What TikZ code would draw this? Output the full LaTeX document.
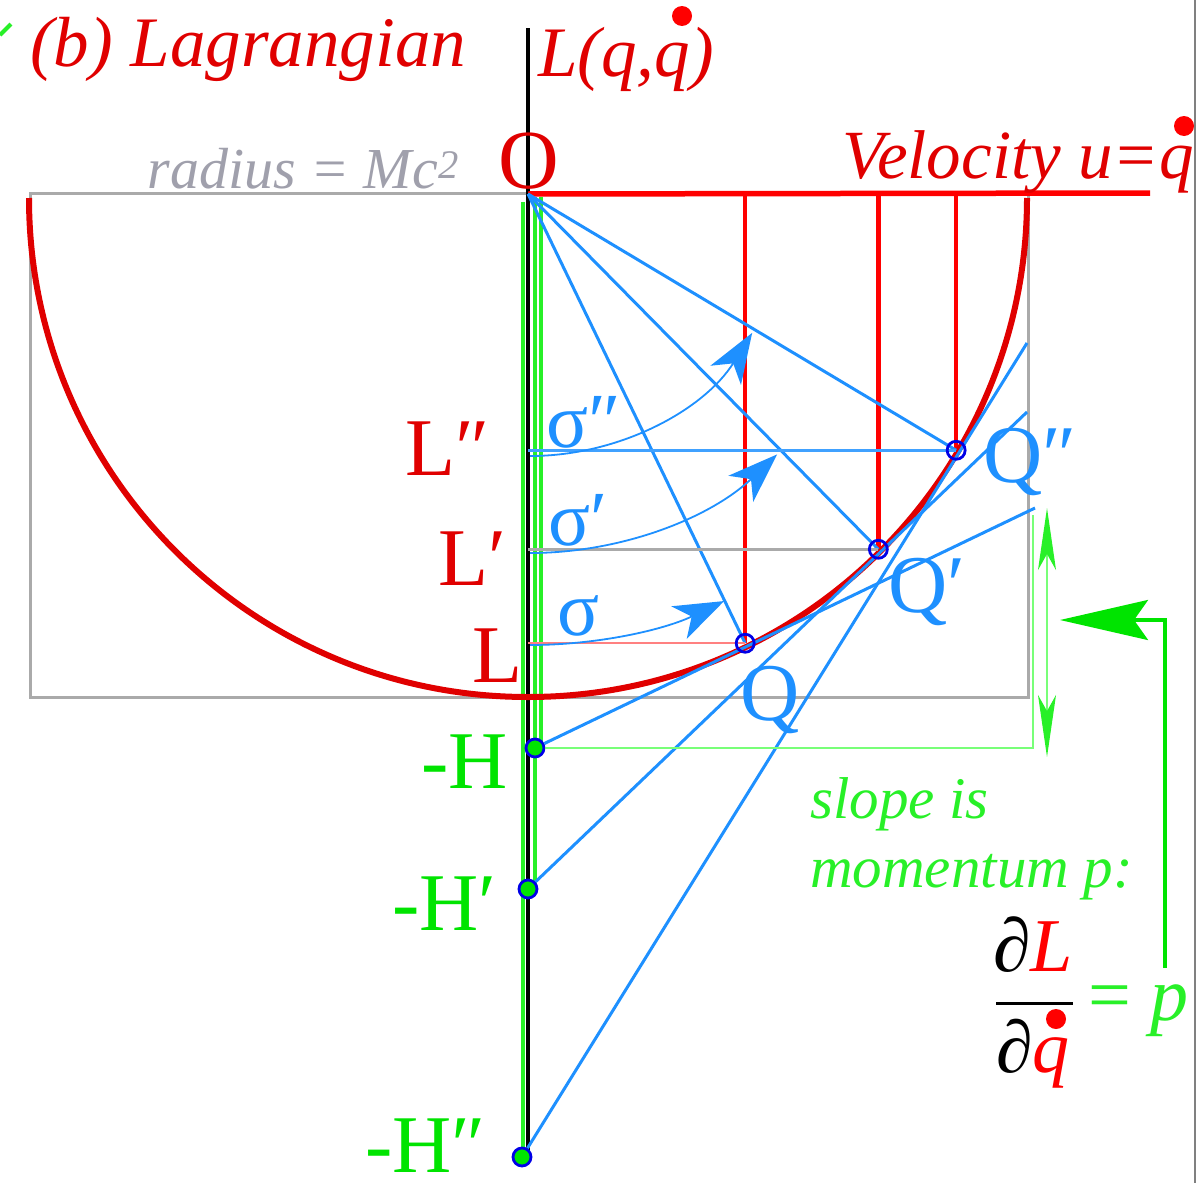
\documentclass[tikz,border=0pt]{standalone}
\usepackage{fontspec}
\setmainfont{Liberation Serif}
\usepackage{xcolor}
\usetikzlibrary{arrows.meta, calc}
\definecolor{lred}{RGB}{224,0,0}
\definecolor{vred}{RGB}{255,0,0}
\definecolor{lblue}{RGB}{30,144,255}
\definecolor{dblue}{RGB}{0,0,230}
\definecolor{lgreen}{RGB}{0,228,0}
\definecolor{bgreen}{RGB}{40,240,40}
\definecolor{pgreen}{RGB}{120,255,120}
\definecolor{lgray}{RGB}{170,170,170}
\definecolor{tgray}{RGB}{160,160,172}
\newcommand{\fsz}[1]{\fontsize{#1}{#1}\selectfont}

\begin{document}
\begin{tikzpicture}[x=1pt, y=-1pt,
    lbl/.style={inner sep=0pt, anchor=base west},
    lble/.style={inner sep=0pt, anchor=base east},
    frame/.style={draw=lgray, line width=3pt},
    gbar/.style={bgreen, line width=3.5pt},
    redline/.style={vred, line width=4.5pt},
    semi/.style={lred, line width=6pt},
    bl/.style={lblue, line width=3pt},
    sig/.style={lblue, line width=1.8pt,
                -{Stealth[length=50pt, width=36pt, inset=14pt]}},
    qdot/.style={circle, draw=dblue, line width=2.8pt, minimum size=18pt, inner sep=0pt},
    hdot/.style={qdot, fill=lgreen},
    dotq/.style={circle, fill=vred, minimum size=20pt, inner sep=0pt}]

    \useasboundingbox (0,0) rectangle (1197,1183);

    % --- Points ---
    \coordinate (O)  at (528,194);
    \coordinate (Qa) at ($(O)+(-64.2:499pt)$);
    \coordinate (Qb) at ($(O)+(-45.4:499pt)$);
    \coordinate (Qc) at ($(O)+(-30.9:499pt)$);
    \coordinate (Ta) at (1035,508);
    \coordinate (Tb) at (1027,412);
    \coordinate (Tc) at (1027,343);
    \coordinate (Tg) at (1033,515);

    % --- Frame, green bars and axes ---
    \draw[frame] (30,193) rectangle (1028,697);
    \draw[gbar] (523,202) -- (523,1150);
    \draw[gbar] (535,197) -- (535,889);
    \draw[gbar] (541,197) -- (541,748);
    \draw[black, line width=4.5pt] (528,28) -- (528,1150);
    \draw[redline, line width=5.5pt] (O) -- (1150,193);
    \draw[redline] (Qa |- O) -- (Qa);
    \draw[redline] (Qb |- O) -- (Qb);
    \draw[redline] (Qc |- O) -- (Qc);
    \draw[semi] (29,198) arc[start angle=180, end angle=360, radius=499pt];

    % --- H points ---
    \node[hdot] (Ha) at (535,748) {};
    \node[hdot] (Hb) at (528,889) {};
    \node[hdot] (Hc) at (522,1157) {};

    % --- Rays and levels ---
    \draw[bl] (O) -- (Qa);
    \draw[bl] (O) -- (Qb);
    \draw[bl] (O) -- (Qc);
    \draw[bl, lblue!85] (O |- Qc) -- (Qc);
    \draw[frame, line width=2.5pt] (O |- Qb) -- (Qb);
    \draw[vred!50, line width=2.5pt] (O |- Qa) -- (Qa);

    % --- Tangents ---
    \draw[bl] (Ha) -- (Ta);
    \draw[bl] (Hb) -- (Tb);
    \draw[bl] (Hc) -- (Tc);

    % --- Angles ---
    \draw[sig] ($(O)+(2,262)$) arc[start angle=-90, end angle=-32, radius=262pt];
    \draw[sig] ($(O)+(2,359)$) arc[start angle=-90, end angle=-46.5, radius=359pt];
    \draw[sig] ($(O)+(2,451)$) arc[start angle=-90, end angle=-64.5, radius=451pt];

    \node[qdot] (qa) at (Qa) {};
    \node[qdot] (qb) at (Qb) {};
    \node[qdot] (qc) at (Qc) {};

    % --- Momentum markers ---
    \draw[pgreen, line width=2.8pt] (Ha) -| (Tg);
    \coordinate (Dt) at (1047,508);
    \coordinate (Db) at (1047,757);
    \draw[pgreen, line width=2.2pt,
          {Stealth[length=62pt, width=18pt, inset=16pt, color=bgreen]}-{Stealth[length=62pt, width=18pt, inset=16pt, color=bgreen]}]
          (Dt) -- (Db);
    \coordinate (pfoot) at (1165,968);
    \coordinate (ptip)  at (1060,620);
    \draw[lgreen, line width=3.5pt, -{Stealth[length=88pt, width=40pt, inset=14pt]}]
          (pfoot) |- (ptip);
    \draw[bgreen, line width=4pt] (0,35) -- (11,24);
    \draw[gray, line width=2pt] (1195,0) -- (1195,1183);

    % --- Titles ---
    \node[lbl, lred, font=\fsz{71}\itshape] (title) at (30,66) {(b) Lagrangian};
    \node[lbl, lred, font=\fsz{71}\itshape] (lqq) at (538,76) {L(q,q)};
    \node[dotq] (lqqdot) at (682,16) {};
    \node[lble, tgray, font=\fsz{58}\itshape] (rad) at (459,188) {radius = Mc\textsuperscript{2}};
    \node[inner sep=0pt, anchor=base, lred, font=\fsz{84}] (olbl) at (529,188) {O};
    \node[lble, lred, font=\fsz{69}\itshape] (vel) at (1194,178) {Velocity u=q};
    \node[dotq] (veldot) at (1184,126) {};

    % --- Level labels ---
    \node[lble, lred, font=\fsz{82}] (lc) at (490,475) {L″};
    \node[lble, lred, font=\fsz{82}] (lb) at (507,585) {L′};
    \node[lble, lred, font=\fsz{82}] (la) at (523,682) {L};
    \node[lbl, lblue, font=\fsz{78}] (sc) at (546,447) {σ″};
    \node[lbl, lblue, font=\fsz{78}] (sb) at (548,545) {σ′};
    \node[lbl, lblue, font=\fsz{78}] (sa) at (557,635) {σ};
    \node[lbl, lblue, font=\fsz{82}] (qlc) at (983,482) {Q″};
    \node[lbl, lblue, font=\fsz{82}] (qlb) at (888,612) {Q′};
    \node[lbl, lblue, font=\fsz{82}] (qla) at (740,720) {Q};
    \node[lble, lgreen, font=\fsz{82}] (hla) at (508,788) {-H};
    \node[lble, lgreen, font=\fsz{82}] (hlb) at (497,930) {-H′};
    \node[lble, lgreen, font=\fsz{82}] (hlc) at (486,1172) {-H″};

    % --- Slope ---
    \node[lbl, bgreen, font=\fsz{59}\itshape] (slope) at (810,818) {slope is};
    \node[lbl, bgreen, font=\fsz{59}\itshape] (mom) at (810,887) {momentum p:};
    \node[inner sep=0pt, anchor=base, font=\fsz{76}] (num) at (1033,971) {∂\textcolor{vred}{\itshape L}};
    \node[inner sep=0pt, anchor=base, font=\fsz{74}] (den) at (1033,1072) {∂\textcolor{vred}{\itshape q}};
    \draw[black, line width=3pt] (996,1003) -- (1073,1003);
    \node[dotq] (dendot) at (1056,1019) {};
    \node[lbl, bgreen, font=\fsz{76}\itshape] (eqp) at (1088,1020) {\upshape= \itshape p};
\end{tikzpicture}
\end{document}
